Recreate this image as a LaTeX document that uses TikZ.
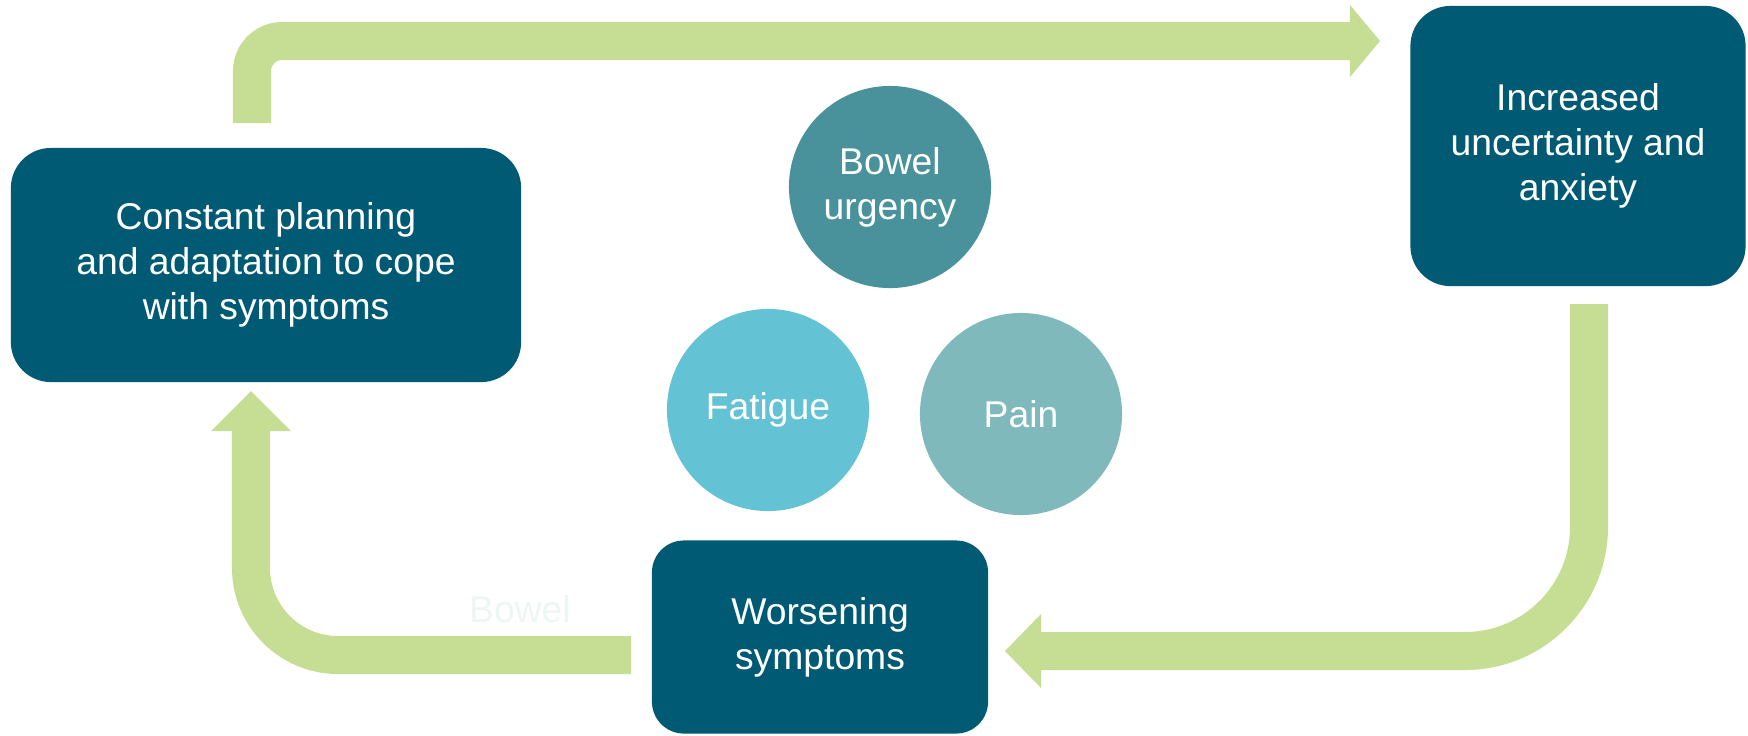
\documentclass[tikz,border=0pt]{standalone}
\usepackage{fontspec}
\setmainfont{Liberation Sans}
\usepackage{tikz}
\usetikzlibrary{arrows.meta}
\definecolor{boxteal}{HTML}{005A73}
\definecolor{urgencyteal}{HTML}{4A929B}
\definecolor{fatigueblue}{HTML}{63C2D3}
\definecolor{painteal}{HTML}{7FB9BC}
\definecolor{loopgreen}{HTML}{C5DE94}
\definecolor{ghosttext}{HTML}{EEF6F5}

\begin{document}
\begin{tikzpicture}[x=0.01cm,y=-0.01cm,
  stage/.style={fill=boxteal,text=white,rounded corners=0.4cm,align=center,inner sep=0pt,font=\fontsize{10.6}{12.8}\selectfont},
  symptom/.style={circle,minimum size=2.02cm,inner sep=0pt,text=white,align=center,font=\fontsize{10.6}{12.8}\selectfont},
  loop/.style={draw=loopgreen,line width=0.38cm}]
\useasboundingbox (0,0) rectangle (1748,735);

\node[stage,minimum width=5.10cm,minimum height=2.34cm] (plan) at (266,265) {Constant planning\\and adaptation to cope\\with symptoms};
\node[stage,minimum width=3.35cm,minimum height=2.80cm] (anxiety) at (1578,146) {Increased\\uncertainty and\\anxiety};
\node[stage,minimum width=3.36cm,minimum height=1.93cm,rounded corners=0.32cm] (worse) at (820,637) {Worsening\\symptoms};

\node[symptom,fill=urgencyteal] (urgency) at (890,187) {Bowel\\urgency};
\node[symptom,fill=fatigueblue] (fatigue) at (768,410) {Fatigue};
\node[symptom,fill=painteal] (pain) at (1021,414) {Pain};
\node[text=ghosttext,font=\fontsize{10.6}{12.8}\selectfont] (ghost) at (520,609) {Bowel};

\coordinate (planout) at (252,123);
\coordinate (anxin) at (1380,41);
\coordinate (anxout) at (1589,304);
\coordinate (worsein) at (1005,651);
\coordinate (worseout) at (631,655);
\coordinate (planin) at (251,391);

\draw[loop,rounded corners=0.3cm,-{Triangle[length=0.30cm,width=0.72cm,line width=0pt]}] (planout) |- (anxin);
\draw[loop,rounded corners=1.24cm,-{Triangle[length=0.36cm,width=0.74cm,line width=0pt]}] (anxout) |- (worsein);
\draw[loop,rounded corners=0.87cm,-{Triangle[length=0.40cm,width=0.80cm,line width=0pt]}] (worseout) -| (planin);

\end{tikzpicture}
\end{document}
